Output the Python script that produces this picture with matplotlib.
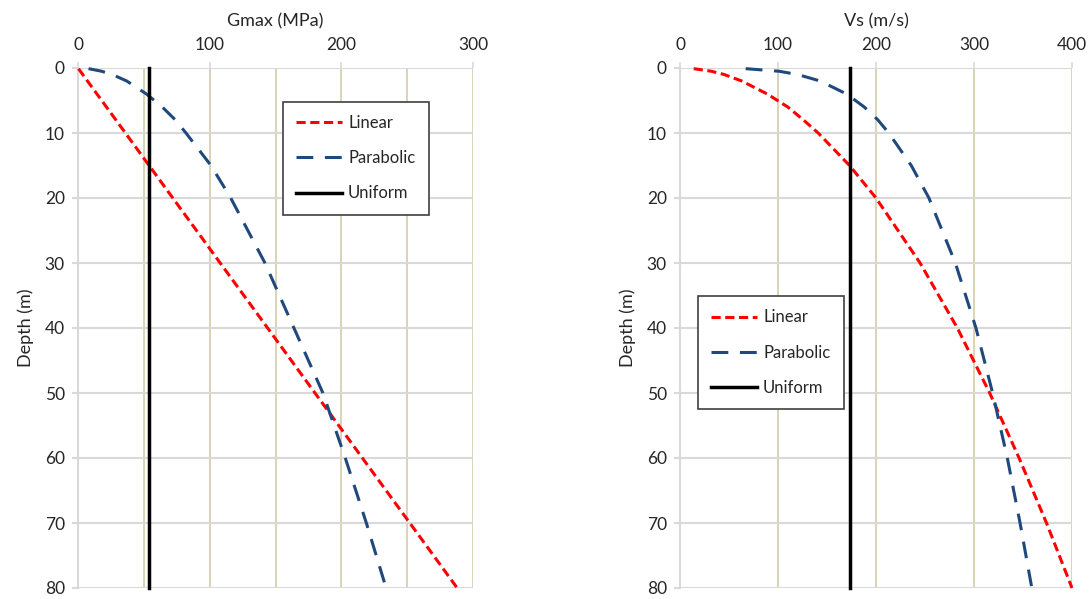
import numpy as np
import matplotlib
matplotlib.use('Agg')
import matplotlib.pyplot as plt

plt.rcParams['font.family'] = ['Lato', 'DejaVu Sans']

# Depth-Daten (m)
depth = [0.1, 0.5, 1, 2, 4, 6, 8, 10, 15, 20, 30, 40, 50, 60, 70, 80]

# Gmax (MPa)
gmax_linear = [0.4, 1.8, 3.6, 7.2, 14.4, 21.6, 28.8, 36, 54, 72, 108, 144, 180, 216, 252, 288]
gmax_parabolic = [8, 18, 26, 37, 52, 64, 74, 82, 101, 116, 142, 164, 186, 203, 219, 234]
gmax_uniform = [54, 54]

# Vs (m/s)
vs_linear = [14, 32, 45, 63, 89, 110, 126, 141, 173, 200, 245, 283, 316, 346, 374, 400]
vs_parabolic = [67, 101, 120, 143, 170, 188, 202, 213, 236, 254, 281, 302, 319, 334, 347, 359]
vs_uniform = [173, 173]
uniform_depth = [0, 80]

red = '#FF0000'
blue = '#1F497D'
grid_grey = '#D9D9D9'
grid_tan = '#D4CCA8'
text_col = '#262626'

fig = plt.figure(figsize=(10.89, 5.99), dpi=100)
ax1 = fig.add_axes([78 / 1089, 1 - 588 / 599, 395 / 1089, 520 / 599])
ax2 = fig.add_axes([680 / 1089, 1 - 588 / 599, 392 / 1089, 520 / 599])


def style_axis(ax, xmax, xlabel, grid_step):
    ax.set_xlim(0, xmax)
    ax.set_ylim(80, 0)
    ax.xaxis.tick_top()
    ax.xaxis.set_label_position('top')
    ax.set_xticks(np.arange(0, xmax + 1, 100))
    ax.set_xticks(np.arange(0, xmax + 1, grid_step), minor=True)
    ax.grid(True, axis='x', which='both', color=grid_tan, lw=1.2)
    ax.set_yticks(np.arange(0, 81, 10))
    ax.grid(True, axis='y', color=grid_grey, lw=1.5)
    ax.set_axisbelow(True)
    for s in ['right', 'bottom', 'top']:
        ax.spines[s].set_visible(False)
    ax.spines['left'].set_color(grid_grey)
    ax.spines['left'].set_linewidth(1.5)
    ax.spines['left'].set_zorder(1.5)
    ax.tick_params(axis='x', which='major', length=4.5, width=1.2, color=grid_grey,
                   pad=6, labelsize=12.5, labelcolor=text_col)
    ax.tick_params(axis='x', which='minor', length=0)
    ax.tick_params(axis='y', length=4.5, width=1.5, color=grid_grey,
                   pad=5, labelsize=12.5, labelcolor=text_col)
    ax.set_xlabel(xlabel, fontsize=13, color=text_col, labelpad=8)
    ax.set_ylabel('Depth (m)', fontsize=13, color=text_col, labelpad=8)


for ax, lin, par, uni, xmax, xlabel, step in [
    (ax1, gmax_linear, gmax_parabolic, gmax_uniform, 300, 'Gmax (MPa)', 50),
    (ax2, vs_linear, vs_parabolic, vs_uniform, 400, 'Vs (m/s)', 100),
]:
    style_axis(ax, xmax, xlabel, step)
    ax.plot(lin, depth, color=red, lw=2.2, dashes=(3, 1.5), label='Linear', clip_on=False)
    ax.plot(par, depth, color=blue, lw=2.2, dashes=(5.5, 3.8), label='Parabolic', clip_on=False)
    ax.plot(uni, uniform_depth, color='black', lw=2.5, label='Uniform', clip_on=False)

leg_kw = dict(loc='upper left', fontsize=12, fancybox=False, edgecolor='#404040',
              framealpha=1, borderaxespad=0, handlelength=2.75, labelspacing=1.15,
              borderpad=0.8, handletextpad=0.35)
l1 = ax1.legend(bbox_to_anchor=(0.519, 0.935), **leg_kw)
l2 = ax2.legend(bbox_to_anchor=(0.046, 0.5615), **leg_kw)
for lg in (l1, l2):
    lg.get_frame().set_linewidth(1.2)
    for t in lg.get_texts():
        t.set_color(text_col)

plt.savefig('out.png', dpi=100)
